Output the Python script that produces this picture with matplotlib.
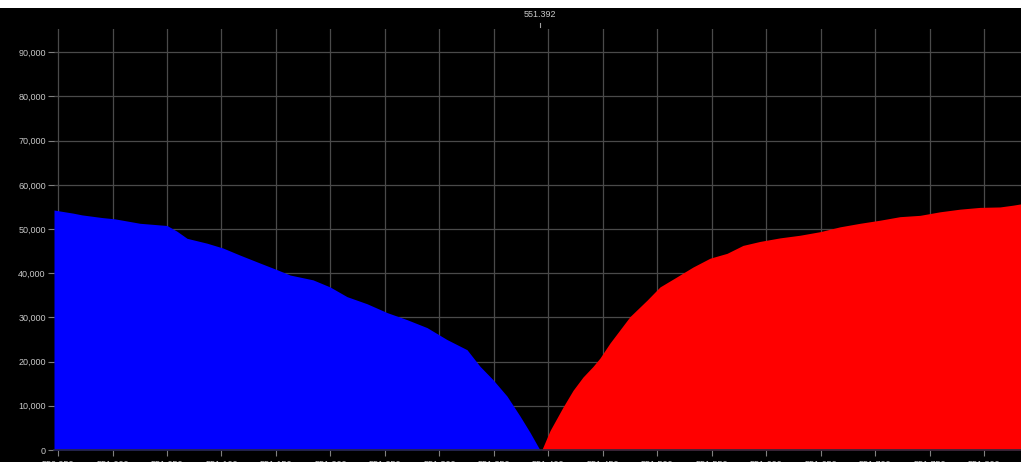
import matplotlib
matplotlib.use("Agg")
import matplotlib.pyplot as plt
import numpy as np
from matplotlib.patches import Rectangle
from matplotlib.ticker import FuncFormatter, MultipleLocator
import matplotlib.transforms as mtransforms

# cumulative bid depth (price, size)
bid_price = [550.9463, 550.9638, 550.9720, 550.9904, 551.0023, 551.0161, 551.0252,
             551.0500, 551.0592, 551.0684, 551.0867, 551.1014, 551.1170, 551.1354,
             551.1510, 551.1629, 551.1840, 551.1996, 551.2152, 551.2335, 551.2519,
             551.2702, 551.2886, 551.3069, 551.3253, 551.3372, 551.3492, 551.3620,
             551.3739, 551.3831, 551.3895, 551.3923]
bid_depth = [54300, 53600, 53200, 52600, 52300, 51700, 51300,
             50800, 49500, 47900, 46800, 45700, 44100, 42300,
             40800, 39600, 38500, 36900, 34700, 33100, 31100,
             29500, 27700, 25000, 22700, 18950, 15900, 12200,
             7700, 4000, 1200, 0]

# cumulative ask depth (price, size)
ask_price = [551.3939, 551.4015, 551.4134, 551.4226, 551.4317, 551.4409, 551.4473,
             551.4565, 551.4657, 551.4749, 551.4905, 551.5024, 551.5180, 551.5327,
             551.5483, 551.5639, 551.5786, 551.5942, 551.6125, 551.6309, 551.6492,
             551.6676, 551.6859, 551.7043, 551.7226, 551.7410, 551.7593, 551.7777,
             551.7960, 551.8144, 551.8263, 551.8337]
ask_depth = [0, 4400, 9700, 13500, 16500, 18900, 20800,
             24200, 27200, 30200, 33900, 36900, 39200, 41400,
             43400, 44500, 46300, 47200, 48000, 48600, 49400,
             50500, 51300, 52000, 52800, 53100, 53900, 54500,
             54900, 55000, 55400, 55700]

mid_price = 551.392

fig = plt.figure(figsize=(10.21, 4.62), dpi=100, facecolor="black")
fig.patches.append(Rectangle((0, 1 - 7.5 / 462), 1, 7.5 / 462, transform=fig.transFigure,
                             facecolor="white", edgecolor="none", zorder=0))

ax = fig.add_axes([54 / 1021, 12 / 462, 1 - 54 / 1021, 420.7 / 462])
ax.set_facecolor("black")

ax.fill_between(bid_price, bid_depth, 0, color="#0000ff", linewidth=0, zorder=2)
ax.fill_between(ask_price, ask_depth, 0, color="#ff0000", linewidth=0, zorder=2)

ax.set_xlim(550.9463, 551.8337)
ax.set_ylim(0, 95200)

ax.xaxis.set_major_locator(MultipleLocator(0.05))
ax.yaxis.set_major_locator(MultipleLocator(10000))
ax.xaxis.set_major_formatter(FuncFormatter(lambda v, p: f"{v:.3f}"))
ax.yaxis.set_major_formatter(FuncFormatter(lambda v, p: f"{v:,.0f}"))

ax.grid(True, color="#4a4a4a", linewidth=0.9)
ax.set_axisbelow(True)

for s in ["top", "right", "left"]:
    ax.spines[s].set_visible(False)
ax.spines["bottom"].set_color("#2a2a40")
ax.spines["bottom"].set_linewidth(1.2)
ax.spines["bottom"].set_zorder(3)

ax.tick_params(axis="both", colors="#808080", labelcolor="#c8c8c8", length=4, width=0.8,
               labelsize=6.5)
ax.tick_params(axis="y", pad=2)
ax.tick_params(axis="x", pad=3)
for lbl in ax.get_xticklabels() + ax.get_yticklabels():
    lbl.set_fontfamily("Liberation Sans")

# mid price marker above the plot
trans = mtransforms.blended_transform_factory(ax.transData, ax.transAxes)
ax.plot([mid_price, mid_price], [1.006, 1.016], transform=trans, color="#a0a0a0",
        linewidth=0.8, clip_on=False)
ax.text(mid_price, 1.034, f"{mid_price:.3f}", transform=trans, ha="center", va="center",
        color="#c8c8c8", fontsize=6.5, family="Liberation Sans")

fig.savefig("out.png", dpi=100, facecolor=fig.get_facecolor())
